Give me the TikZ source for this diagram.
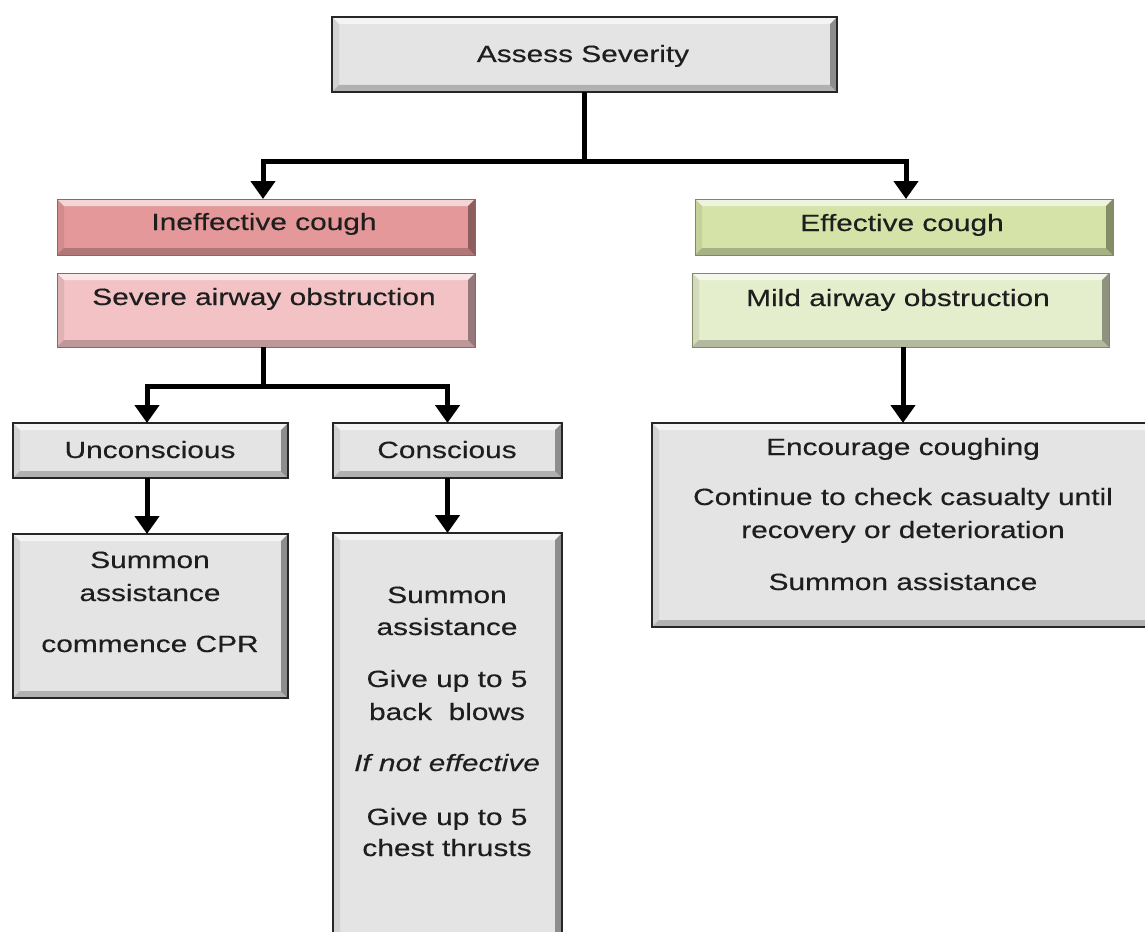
\documentclass[tikz,border=0pt]{standalone}
\usepackage{fontspec}
\setmainfont{Liberation Sans}[FakeStretch=1.27,FakeBold=0.35]
\usetikzlibrary{arrows.meta}
\definecolor{boxgray}{RGB}{228,228,228}
\definecolor{edgegray}{RGB}{38,38,38}
\definecolor{redA}{RGB}{228,152,153}
\definecolor{redB}{RGB}{243,194,197}
\definecolor{grnA}{RGB}{214,227,168}
\definecolor{grnB}{RGB}{229,238,204}
\definecolor{txtc}{RGB}{30,30,30}
\tikzset{
  bev/.style={path picture={
    \fill[white,opacity=.6] (path picture bounding box.north west) -- (path picture bounding box.north east)
      -- ([shift={(-#1,-#1)}]path picture bounding box.north east) -- ([shift={(#1,-#1)}]path picture bounding box.north west) -- cycle;
    \fill[black,opacity=.38] (path picture bounding box.north east) -- (path picture bounding box.south east)
      -- ([shift={(-#1,#1)}]path picture bounding box.south east) -- ([shift={(-#1,-#1)}]path picture bounding box.north east) -- cycle;
    \fill[black,opacity=.22] (path picture bounding box.south east) -- (path picture bounding box.south west)
      -- ([shift={(#1,#1)}]path picture bounding box.south west) -- ([shift={(-#1,#1)}]path picture bounding box.south east) -- cycle;
    \fill[black,opacity=.08] (path picture bounding box.south west) -- (path picture bounding box.north west)
      -- ([shift={(#1,-#1)}]path picture bounding box.north west) -- ([shift={(#1,#1)}]path picture bounding box.south west) -- cycle;
  }},
  bev/.default=7pt,
  boxbase/.style={rectangle, inner sep=0pt, outer sep=0pt, bev},
  graybox/.style={boxbase, fill=boxgray, draw=edgegray, line width=1.8pt},
  redbox/.style={boxbase, fill=#1, draw=redA!65!black, line width=0.8pt},
  grnbox/.style={boxbase, fill=#1, draw=grnA!60!black, line width=0.8pt},
  txt/.style={anchor=base, inner sep=0pt, text=txtc, font=\fontsize{23.5}{28}\selectfont},
  ln/.style={line width=5pt, draw=black},
  arr/.style={ln, -{Triangle[width=24pt,length=18pt]}},
}
\begin{document}
\begin{tikzpicture}[x=1pt,y=-1pt]
\useasboundingbox (0,0) rectangle (1145,931);
\clip (0,0) rectangle (1145,931);
\fill[white] (0,0) rectangle (1145,931);

% boxes
\node[graybox, minimum width=505pt, minimum height=75pt] (assess) at (584.5,54.5) {};
\node[redbox=redA, minimum width=418pt, minimum height=56pt] (ineff) at (266,227) {};
\node[redbox=redB, minimum width=418pt, minimum height=74pt] (severe) at (266,310) {};
\node[grnbox=grnA, minimum width=418pt, minimum height=56pt] (effc) at (904,227) {};
\node[grnbox=grnB, minimum width=417pt, minimum height=74pt] (mild) at (900.5,310) {};
\node[graybox, minimum width=275pt, minimum height=55pt] (uncon) at (150.5,450.5) {};
\node[graybox, minimum width=229pt, minimum height=55pt] (consc) at (447.5,450.5) {};
\node[graybox, minimum width=275pt, minimum height=164pt] (summ) at (150.5,616) {};
\node[graybox, minimum width=229pt, minimum height=427pt] (consd) at (447.5,746.5) {};
\node[graybox, minimum width=502pt, minimum height=204pt] (encour) at (903,525) {};

% texts
\node[txt] (tAssess) at (583,62) {Assess Severity};
\node[txt] (tIneff) at (264,230) {Ineffective cough};
\node[txt] (tSevere) at (264,305) {Severe airway obstruction};
\node[txt] (tEff) at (902,231) {Effective cough};
\node[txt] (tMild) at (898,306) {Mild airway obstruction};
\node[txt] (tUncon) at (150,458) {Unconscious};
\node[txt] (tConsc) at (447,458) {Conscious};

\node[txt] (tS1) at (150,568) {Summon};
\node[txt] (tS2) at (150,601) {assistance};
\node[txt] (tS3) at (150,652) {commence CPR};

\node[txt] (tC1) at (447,603) {Summon};
\node[txt] (tC2) at (447,635) {assistance};
\node[txt] (tC3) at (447,687) {Give up to 5};
\node[txt] (tC4) at (447,720) {back\ \ blows};
\node[txt] (tC5) at (447,771) {\itshape If not effective};
\node[txt] (tC6) at (447,825) {Give up to 5};
\node[txt] (tC7) at (447,856) {chest thrusts};

\node[txt] (tE1) at (903,455) {Encourage coughing};
\node[txt] (tE2) at (903,505) {Continue to check casualty until};
\node[txt] (tE3) at (903,538) {recovery or deterioration};
\node[txt] (tE4) at (903,590) {Summon assistance};

% connectors
\coordinate (j1) at (assess.south |- 0,161);
\draw[ln] (assess.south) -- (j1);
\draw[arr] (j1) -| ([xshift=-3pt]ineff.north);
\draw[arr] (j1) -| ([xshift=2pt]effc.north);
\path ([xshift=-3pt]severe.south) coordinate (s2);
\coordinate (j2) at (s2 |- 0,386);
\draw[ln] (s2) -- (j2);
\draw[arr] (j2) -| ([xshift=-3.5pt]uncon.north);
\draw[arr] (j2) -| (consc.north);
\draw[arr] ([xshift=-3.5pt]uncon.south) -- ([xshift=-3.5pt]summ.north);
\draw[arr] (consc.south) -- (consd.north);
\draw[arr] (mild.south -| encour.north) -- (encour.north);
\end{tikzpicture}
\end{document}
